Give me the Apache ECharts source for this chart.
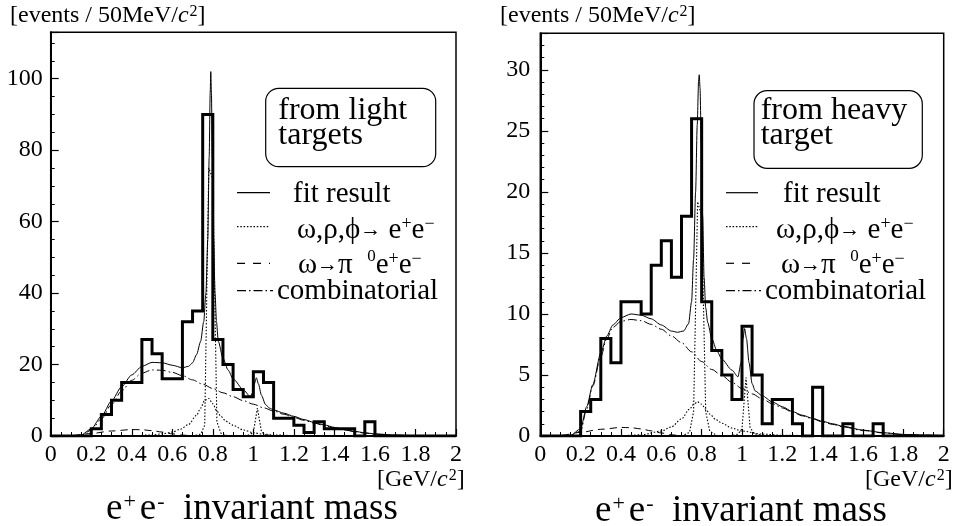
<!DOCTYPE html>
<html>
<head>
<meta charset="utf-8">
<script src="https://cdn.jsdelivr.net/npm/echarts@6/dist/echarts.min.js"></script>
<style>
  html, body { margin: 0; padding: 0; background: #fff; }
  #chart { width: 957px; height: 526px; }
</style>
</head>
<body>
<div id="chart"></div>
<script>
// Bin lower edges (50 MeV/c^2 bins) plus the final upper edge
const binEdges = [0, 0.05, 0.1, 0.15, 0.2, 0.25, 0.3, 0.35, 0.4, 0.45, 0.5, 0.55, 0.6, 0.65, 0.7,
  0.75, 0.8, 0.85, 0.9, 0.95, 1.0, 1.05, 1.1, 1.15, 1.2, 1.25, 1.3, 1.35, 1.4, 1.45, 1.5, 1.55,
  1.6, 1.65, 1.7, 1.75, 1.8, 1.85, 1.9, 1.95, 2.0];

// Event counts per bin
const countsLight = [0, 0, 0, 0, 2, 6, 10, 15, 15, 27, 23, 16, 16, 32, 35, 90, 27, 20, 13, 11,
  18, 15, 5, 5, 3, 1, 4, 2, 2, 2, 0, 4, 0, 0, 0, 0, 0, 0, 0, 0];
const countsHeavy = [0, 0, 0, 0, 2, 3, 8, 6, 11, 11, 10, 14, 16, 13, 18, 26, 11, 7, 5, 3,
  9, 5, 1, 3, 3, 1, 0, 4, 0, 0, 1, 0, 0, 1, 0, 0, 0, 0, 0, 0];

// Fit curves, light targets  [mass GeV/c^2, events]
const fitLight = [[0,0],[0.1,0],[0.15,0.3],[0.2,2.0],[0.25,5.5],[0.3,9.8],[0.35,13.8],[0.4,17.1],
  [0.45,19.5],[0.5,20.6],[0.55,20.5],[0.6,19.8],[0.65,19.1],[0.68,19.5],[0.7,20.5],[0.72,22.8],
  [0.74,26.5],[0.755,32],[0.766,40],[0.775,55],[0.782,78],[0.787,96],[0.79,102],[0.793,96],
  [0.798,78],[0.804,55],[0.811,40],[0.818,32],[0.827,26.5],[0.85,21.8],[0.875,18.5],[0.9,16.0],
  [0.95,13.0],[0.985,11.0],[0.995,12.0],[1.005,14.6],[1.015,16.3],[1.025,14.6],[1.04,11.4],
  [1.06,8.8],[1.08,7.8],[1.1,7.3],[1.15,6.4],[1.2,5.5],[1.25,4.6],[1.3,3.8],[1.35,3.1],[1.4,2.4],
  [1.45,1.8],[1.5,1.3],[1.55,0.9],[1.6,0.6],[1.7,0.25],[1.8,0.1],[1.9,0.04],[2,0.02]];
const rhoLight = [[0.4,0],[0.5,0.3],[0.55,0.6],[0.6,1.1],[0.64,1.9],[0.68,3.2],[0.72,5.8],[0.74,7.8],
  [0.76,10.0],[0.78,10.5],[0.8,9.0],[0.82,7.0],[0.84,5.5],[0.86,4.4],[0.88,3.6],[0.9,3.0],
  [0.95,1.7],[1.0,0.9],[1.05,0.5],[1.1,0.3],[1.2,0.1],[1.4,0]];
const omegaLight = [[0.7,0],[0.74,0.5],[0.76,3],[0.78,75],[0.8,72],[0.82,4],[0.84,0.8],[0.86,0.2],[0.9,0]];
const phiLight = [[0.94,0],[0.98,0.3],[1.0,1.0],[1.02,7.8],[1.04,1.2],[1.06,0.3],[1.1,0.1],[1.2,0]];
const dalitzLight = [[0.05,0],[0.1,0.1],[0.2,0.7],[0.3,1.4],[0.4,1.8],[0.45,1.75],[0.5,1.5],
  [0.55,1.1],[0.6,0.6],[0.65,0.25],[0.7,0.05],[0.75,0]];
const combLight = [[0.1,0],[0.15,0.2],[0.2,1.6],[0.25,4.8],[0.3,8.8],[0.35,12.6],[0.4,15.6],
  [0.45,17.6],[0.5,18.5],[0.55,18.4],[0.6,17.8],[0.65,16.9],[0.7,15.7],[0.75,14.5],[0.8,13.3],
  [0.85,12.1],[0.9,11.0],[0.95,9.9],[1.0,8.9],[1.05,7.9],[1.1,7.0],[1.15,6.1],[1.2,5.2],[1.25,4.4],
  [1.3,3.6],[1.35,2.9],[1.4,2.3],[1.45,1.7],[1.5,1.2],[1.55,0.8],[1.6,0.5],[1.7,0.2],[1.8,0.1],
  [1.9,0.04],[2,0.02]];

// Fit curves, heavy target
const fitHeavy = [[0,0],[0.1,0],[0.15,0.05],[0.2,0.6],[0.23,2.4],[0.26,4.2],[0.3,6.8],[0.33,8.2],
  [0.36,9.1],[0.4,9.7],[0.45,10.0],[0.5,9.9],[0.55,9.6],[0.6,9.1],[0.65,8.6],[0.68,8.5],[0.71,8.6],
  [0.735,9.2],[0.75,11],[0.76,14.5],[0.77,20],[0.778,25.5],[0.785,29.2],[0.788,29.6],[0.792,28.5],
  [0.798,24],[0.805,18],[0.812,13],[0.82,10.5],[0.83,9.3],[0.85,8.0],[0.875,7.0],[0.9,6.3],
  [0.95,5.4],[0.98,4.85],[0.995,6.0],[1.005,8.0],[1.013,8.8],[1.022,8.0],[1.035,6.0],[1.05,4.3],
  [1.065,3.7],[1.1,3.3],[1.15,2.8],[1.2,2.4],[1.25,2.0],[1.3,1.7],[1.35,1.45],[1.4,1.2],[1.45,1.0],
  [1.5,0.8],[1.6,0.48],[1.7,0.27],[1.8,0.13],[1.9,0.07],[2,0.03]];
const rhoHeavy = [[0.4,0],[0.5,0.1],[0.6,0.4],[0.65,0.75],[0.7,1.4],[0.74,2.2],[0.76,2.6],[0.78,2.8],
  [0.8,2.6],[0.82,2.2],[0.84,1.8],[0.87,1.35],[0.9,1.05],[0.95,0.65],[1.0,0.4],[1.1,0.15],
  [1.2,0.06],[1.4,0]];
const omegaHeavy = [[0.7,0],[0.74,0.3],[0.76,2],[0.78,19.2],[0.8,18],[0.82,2],[0.84,0.4],[0.88,0]];
const phiHeavy = [[0.94,0],[0.98,0.15],[1.0,0.6],[1.02,4.8],[1.04,0.7],[1.06,0.2],[1.1,0.05],[1.2,0]];
const dalitzHeavy = [[0.05,0],[0.1,0.05],[0.2,0.3],[0.3,0.55],[0.4,0.7],[0.45,0.68],[0.5,0.58],
  [0.55,0.42],[0.6,0.25],[0.65,0.1],[0.7,0.02],[0.75,0]];
const combHeavy = [[0.1,0],[0.15,0.05],[0.2,0.4],[0.23,2.2],[0.26,4.1],[0.3,6.5],[0.33,8.0],
  [0.36,8.9],[0.4,9.4],[0.45,9.55],[0.5,9.45],[0.55,9.15],[0.6,8.75],[0.65,8.2],[0.7,7.65],
  [0.75,6.9],[0.8,6.1],[0.85,5.45],[0.9,4.95],[0.95,4.4],[1.0,3.9],[1.05,3.45],[1.1,3.05],
  [1.15,2.65],[1.2,2.3],[1.25,1.95],[1.3,1.65],[1.35,1.4],[1.4,1.15],[1.45,0.95],[1.5,0.75],
  [1.6,0.45],[1.7,0.25],[1.8,0.12],[1.9,0.06],[2,0.03]];

const FONT = 'Liberation Serif';
const DOT = [1.5, 1.8];
const DASH = [7, 5];
const DASHDOT = [9, 3, 1.5, 3];

function stepData(counts) {
  const d = counts.map((c, i) => [binEdges[i], c]);
  d.push([binEdges[counts.length], counts[counts.length - 1]]);
  return d;
}

function xAxis(gi) {
  return {
    type: 'value', gridIndex: gi, min: 0, max: 2, interval: 0.2,
    axisLine: { show: true, onZero: false, lineStyle: { color: '#000', width: 2 } },
    axisTick: { show: true, inside: true, length: 7, lineStyle: { color: '#000', width: 1.2 } },
    minorTick: { show: true, splitNumber: 4, length: 4, lineStyle: { color: '#000', width: 1 } },
    splitLine: { show: false }, minorSplitLine: { show: false },
    axisLabel: { color: '#000', fontFamily: FONT, fontSize: 24, margin: 7 }
  };
}

function yAxes(gi, max, major, minor, labelMargin) {
  return [
    {
      type: 'value', gridIndex: gi, position: 'left', min: 0, max: max, interval: minor,
      axisLine: { show: true, onZero: false, lineStyle: { color: '#000', width: 2 } },
      axisTick: { show: true, inside: true, length: 4, lineStyle: { color: '#000', width: 1 } },
      axisLabel: { show: false }, splitLine: { show: false }
    },
    {
      type: 'value', gridIndex: gi, position: 'left', min: 0, max: max, interval: major,
      axisLine: { show: false },
      axisTick: { show: true, inside: true, length: 8, lineStyle: { color: '#000', width: 1.2 } },
      axisLabel: {
        color: '#000', fontFamily: FONT, fontSize: 24, margin: labelMargin,
        formatter: v => (Math.abs(v / major - Math.round(v / major)) < 1e-6 ? String(v) : '')
      },
      splitLine: { show: false }
    }
  ];
}

function curve(gi, data, dash, width, smooth) {
  return {
    type: 'line', xAxisIndex: gi, yAxisIndex: gi * 2, data: data,
    symbol: 'none', showSymbol: false, smooth: smooth, smoothMonotone: 'x',
    lineStyle: { color: '#000', width: width, type: dash },
    silent: true, animation: false
  };
}

function histogram(gi, counts) {
  return {
    type: 'line', xAxisIndex: gi, yAxisIndex: gi * 2, data: stepData(counts), step: 'end',
    symbol: 'none', showSymbol: false,
    lineStyle: { color: '#000', width: 3, join: 'miter' },
    silent: true, animation: false
  };
}

function panelSeries(gi, counts, fit, rho, omega, phi, dalitz, comb) {
  return [
    histogram(gi, counts),
    curve(gi, comb, DASHDOT, 1, 0.3),
    curve(gi, dalitz, DASH, 1, 0.3),
    curve(gi, rho, DOT, 1.1, 0.3),
    curve(gi, omega, DOT, 1.1, false),
    curve(gi, phi, DOT, 1.1, false),
    curve(gi, fit, 'solid', 1, 0.25)
  ];
}

const legRich = {
  n: { fontFamily: FONT, fontSize: 29, lineHeight: 32, verticalAlign: 'bottom', fill: '#000' },
  a: { fontFamily: FONT, fontSize: 21, lineHeight: 32, verticalAlign: 'bottom', padding: [0, 0, 4, 0], fill: '#000' },
  s: { fontFamily: FONT, fontSize: 18, lineHeight: 18, verticalAlign: 'top', padding: [2, 0, 0, 0], fill: '#000' },
  z: { fontFamily: FONT, fontSize: 17, lineHeight: 17, verticalAlign: 'top', padding: [0, 0, 0, 0], fill: '#000' }
};

function textEl(x, y, text, rich, valign) {
  return {
    type: 'text', x: x, y: y, silent: true,
    style: { text: text, rich: rich, align: 'left', verticalAlign: valign || 'middle', fill: '#000' }
  };
}

function lineEl(x1, x2, y, dash) {
  return {
    type: 'line', silent: true,
    shape: { x1: x1, y1: y, x2: x2, y2: y },
    style: { stroke: '#000', lineWidth: 1.2, lineDash: dash }
  };
}

function legendBlock(sx1, sx2, tx) {
  return [
    lineEl(sx1, sx2, 192.7, null),
    textEl(tx[0], 193, '{n|fit result}', legRich),
    lineEl(sx1, sx2, 226.7, [1.5, 1.8]),
    textEl(tx[1], 229, '{n|ω,ρ,ϕ}{a|→}{n| e}{s|+}{n|e}{s|−}', legRich),
    lineEl(sx1, sx2, 263.3, [8, 8]),
    textEl(tx[2], 264, '{n|ω}{a|→}{n|π  }{z|0}{n|e}{s|+}{n|e}{s|−}', legRich),
    lineEl(sx1, sx2 + 3, 290.7, [9, 3, 1.5, 3]),
    textEl(tx[3], 290, '{n|combinatorial}', legRich)
  ];
}

const boxRich = { n: { fontFamily: FONT, fontSize: 32, fill: '#000' } };
const yTitleRich = {
  n: { fontFamily: FONT, fontSize: 24, lineHeight: 27, verticalAlign: 'bottom', fill: '#000' },
  i: { fontFamily: FONT, fontSize: 24, fontStyle: 'italic', lineHeight: 27, verticalAlign: 'bottom', fill: '#000' },
  s: { fontFamily: FONT, fontSize: 16, lineHeight: 16, verticalAlign: 'top', padding: [3, 0, 0, 1], fill: '#000' }
};
const unitRich = {
  n: { fontFamily: FONT, fontSize: 24, lineHeight: 27, verticalAlign: 'bottom', fill: '#000' },
  i: { fontFamily: FONT, fontSize: 24, fontStyle: 'italic', lineHeight: 27, verticalAlign: 'bottom', fill: '#000' },
  s: { fontFamily: FONT, fontSize: 16, lineHeight: 16, verticalAlign: 'top', padding: [3, 0, 0, 1], fill: '#000' }
};
const massRich = {
  n: { fontFamily: FONT, fontSize: 37, lineHeight: 40, verticalAlign: 'bottom', fill: '#000' },
  e: { fontFamily: FONT, fontSize: 37, lineHeight: 40, verticalAlign: 'bottom', padding: [0, 0, 0, 4], fill: '#000' },
  s: { fontFamily: FONT, fontSize: 22, lineHeight: 22, verticalAlign: 'top', padding: [3, 0, 0, 1], fill: '#000' }
};

const chart = echarts.init(document.getElementById('chart'), null, { renderer: 'canvas' });

chart.setOption({
  backgroundColor: '#fff',
  animation: false,
  grid: [
    { left: 50.7, top: 32.3, width: 405.3, height: 403.7, show: true, borderColor: '#000', borderWidth: 1.5,
      backgroundColor: 'transparent', containLabel: false, outerBoundsMode: 'none' },
    { left: 540.3, top: 33.3, width: 403.4, height: 402.7, show: true, borderColor: '#000', borderWidth: 1.5,
      backgroundColor: 'transparent', containLabel: false, outerBoundsMode: 'none' }
  ],
  xAxis: [xAxis(0), xAxis(1)],
  yAxis: [].concat(yAxes(0, 113, 20, 5, 8), yAxes(1, 33, 5, 1, 10)),
  series: [].concat(
    panelSeries(0, countsLight, fitLight, rhoLight, omegaLight, phiLight, dalitzLight, combLight),
    panelSeries(1, countsHeavy, fitHeavy, rhoHeavy, omegaHeavy, phiHeavy, dalitzHeavy, combHeavy)
  ),
  graphic: [].concat(
    [
      textEl(10, 14, '{n|[events / 50MeV/}{i|c}{s|2}{n|]}', yTitleRich),
      textEl(500, 14, '{n|[events / 50MeV/}{i|c}{s|2}{n|]}', yTitleRich),
      textEl(377, 478, '{n|[GeV/}{i|c}{s|2}{n|]}', unitRich),
      textEl(865, 478, '{n|[GeV/}{i|c}{s|2}{n|]}', unitRich),
      textEl(106, 508, '{n|e}{s|+}{e|e}{s|-}{n|  invariant mass}', massRich),
      textEl(595, 510, '{n|e}{s|+}{e|e}{s|-}{n|  invariant mass}', massRich),
      { type: 'rect', silent: true, shape: { x: 265.7, y: 88.3, width: 170, height: 78.4, r: 13 },
        style: { fill: 'transparent', stroke: '#000', lineWidth: 1.2 } },
      textEl(278.3, 111, '{n|from light}', boxRich),
      textEl(278.3, 136, '{n|targets}', boxRich),
      { type: 'rect', silent: true, shape: { x: 754, y: 90.7, width: 168.3, height: 77.6, r: 13 },
        style: { fill: 'transparent', stroke: '#000', lineWidth: 1.2 } },
      textEl(760.7, 111, '{n|from heavy}', boxRich),
      textEl(760.7, 136, '{n|target}', boxRich)
    ],
    legendBlock(237, 270, [293, 297, 298, 277]),
    legendBlock(726, 758, [783, 776, 781, 765])
  )
});
</script>
</body>
</html>
